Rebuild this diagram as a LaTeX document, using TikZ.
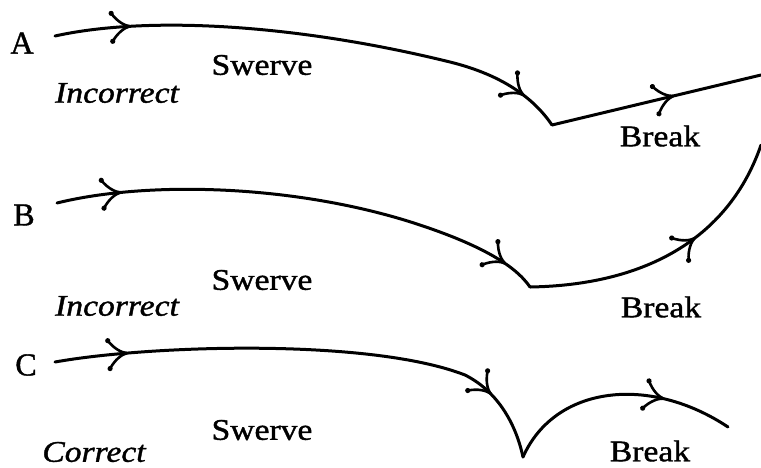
\documentclass[tikz,border=0pt]{standalone}
\usepackage{fontspec}
\setmainfont{Liberation Serif}
\newfontfamily\heavy{Liberation Serif}[FakeBold=1.2]
\usetikzlibrary{decorations.markings}
\newcommand\barbmark{%
  \draw[line width=2.6pt,line cap=round] (0pt,0pt) .. controls (-5pt,1pt) and (-12pt,5pt) .. (-18pt,14pt);
  \draw[line width=2.6pt,line cap=round] (0pt,0pt) .. controls (-5pt,-1pt) and (-12pt,-5pt) .. (-18pt,-14pt);
  \fill (-18pt,14pt) circle (2.6pt);
  \fill (-18pt,-14pt) circle (2.6pt);
}
\tikzset{
  curve/.style={line width=3pt, line cap=round, line join=miter},
  onebarb/.style={postaction={decorate,decoration={markings,mark=at position #1 with {\barbmark}}}},
  twobarbs/.style 2 args={postaction={decorate,decoration={markings,
      mark=at position #1 with {\barbmark},
      mark=at position #2 with {\barbmark}}}},
  lbl/.style={font=\heavy\fontsize{30}{34}\selectfont, inner sep=0pt, xscale=1.12},
  ilbl/.style={lbl, font=\heavy\fontsize{30}{34}\selectfont\itshape},
  letter/.style={font=\heavy\fontsize{32}{36}\selectfont, inner sep=0pt},
}
\begin{document}
\begin{tikzpicture}[x=1pt,y=-1pt]
\useasboundingbox[fill=white] (0,0) rectangle (761,467);

% ---- A ----
\coordinate (a0) at (55,36);
\coordinate (a1) at (450,62);
\coordinate (a2) at (552,125);
\coordinate (a3) at (761,75);
\draw[curve, twobarbs={0.145}{0.92}] (a0) .. controls (150,15) and (300,25) .. (a1)
   .. controls (505,75.6) and (535,100) .. (a2);
\draw[curve, onebarb=0.58] (a2) -- (a3);
\node[letter] (la) at (22,43) {A};
\node[lbl] (sa) at (262,65) {Swerve};
\node[ilbl] (ia) at (117,93) {Incorrect};
\node[lbl] (ba) at (660,136) {Break};

% ---- B ----
\coordinate (b0) at (57,203);
\coordinate (b1) at (420,225);
\coordinate (b2) at (530,287);
\coordinate (b3) at (761,145);
\draw[curve, twobarbs={0.13}{0.93}] (b0) .. controls (150,180) and (300,185) .. (b1)
   .. controls (480,245) and (515,265) .. (b2);
\draw[curve, onebarb=0.6] (b2) .. controls (650,285) and (730,235) .. (b3);
\node[letter] (lb) at (24,215) {B};
\node[lbl] (sb) at (262,280) {Swerve};
\node[ilbl] (ib) at (117,306) {Incorrect};
\node[lbl] (bb) at (661,307) {Break};

% ---- C ----
\coordinate (c0) at (55,362);
\coordinate (c1) at (465,375);
\coordinate (c2) at (523,457);
\coordinate (c3) at (728,427);
\draw[curve, twobarbs={0.14}{0.86}] (c0) .. controls (150,345) and (370,338) .. (c1)
   .. controls (495,390) and (515,420) .. (c2);
\draw[curve, onebarb=0.7] (c2) .. controls (555,385) and (650,375) .. (c3);
\node[letter] (lc) at (26,365) {C};
\node[lbl] (sc) at (262,430) {Swerve};
\node[ilbl] (ic) at (94,452) {Correct};
\node[lbl] (bc) at (650,451) {Break};
\end{tikzpicture}
\end{document}
